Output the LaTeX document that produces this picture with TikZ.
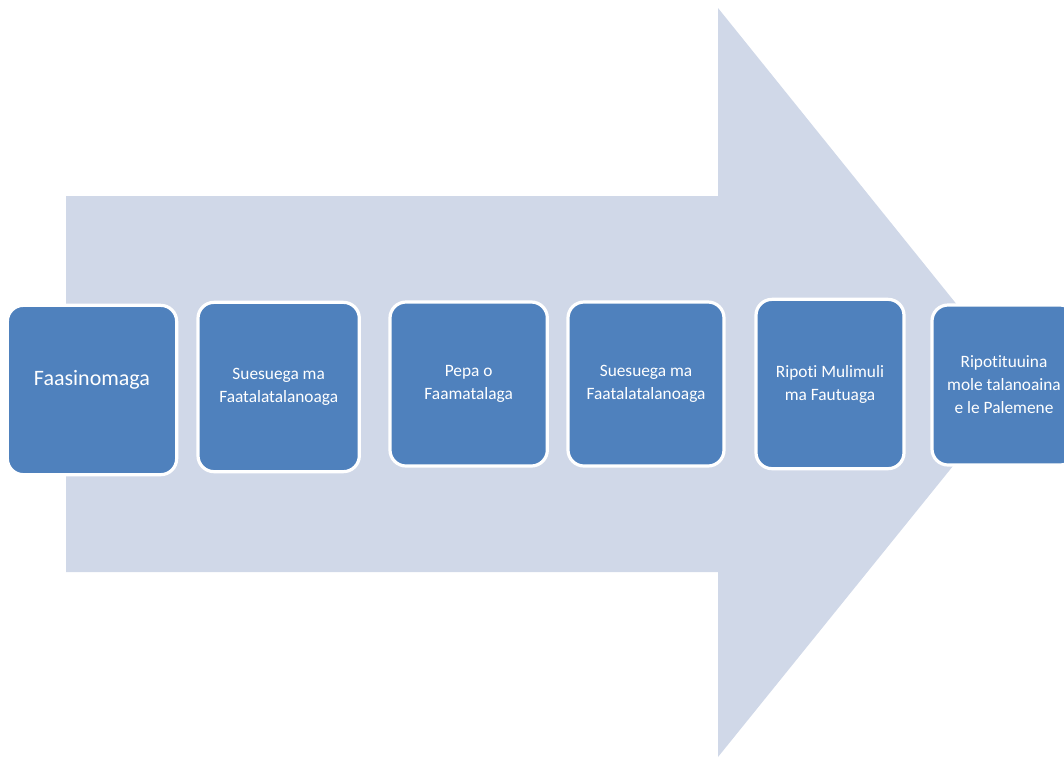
\documentclass[tikz,border=0pt]{standalone}
\usepackage{fontspec}
\setmainfont{Carlito}[Ligatures=NoCommon]
\usepackage{xcolor}
\usepackage{tikz}
\definecolor{arrowgrey}{HTML}{D0D8E8}
\definecolor{boxblue}{HTML}{4F81BD}
\tikzset{%
  bigarrow/.style={fill=arrowgrey, draw=none},
  stepbox/.style={rectangle, rounded corners=12pt, draw=white, line width=2.4pt,
    fill=boxblue, text=white, align=center, inner sep=2pt,
    font=\fontsize{13}{17.25}\selectfont}
}

\begin{document}
\begin{tikzpicture}[x=0.75pt, y=-0.75pt]
        \clip (0,0) rectangle (1064,758);

        % big arrow behind the steps
        \path [bigarrow] (66,196) -- (718,196) -- (718,8) -- (1020,383)
            -- (718,757) -- (718,572) -- (66,572) -- cycle;

        \node [stepbox, minimum width=127pt, minimum height=127pt, text depth=18pt,
               font=\fontsize{16.5}{20}\selectfont]                  (fsn) at (92,390) {Faasinomaga};
        \node [stepbox, minimum width=121pt, minimum height=127pt,
               right of=fsn, node distance=140pt, yshift=2.25pt]    (sf1) {Suesuega ma\\Faatalatalanoaga};
        \node [stepbox, minimum width=118pt, minimum height=123pt,
               right of=sf1, node distance=142.5pt, yshift=2.25pt]  (pep) {Pepa o\\Faamatalaga};
        \node [stepbox, minimum width=117pt, minimum height=123pt,
               right of=pep, node distance=133pt]                   (sf2) {Suesuega ma\\Faatalatalanoaga};
        \node [stepbox, minimum width=111pt, minimum height=127pt,
               right of=sf2, node distance=138pt]                   (rmf) {Ripoti Mulimuli\\ma Fautuaga};
        \node [stepbox, minimum width=108pt, minimum height=120pt,
               right of=rmf, node distance=130.5pt, yshift=-0.75pt] (rtp) {Ripotituuina\\mole talanoaina\\e le Palemene};
    \end{tikzpicture}
\end{document}
